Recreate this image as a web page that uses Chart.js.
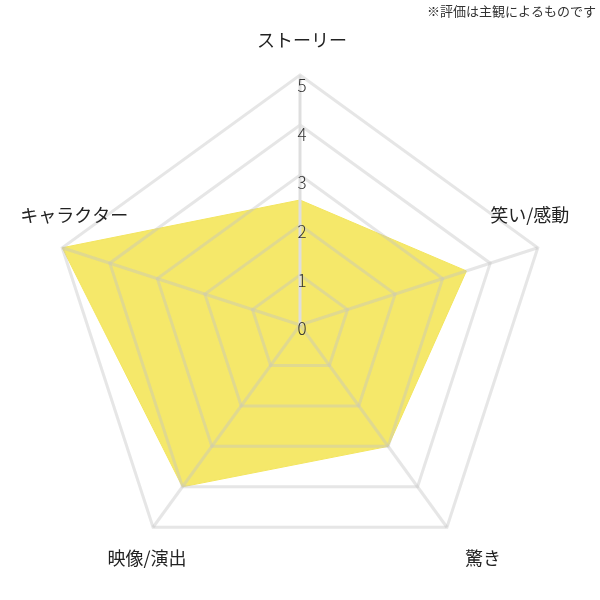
<!DOCTYPE html>
<html lang="ja">
<head>
<meta charset="utf-8">
<script src="https://cdn.jsdelivr.net/npm/chart.js@4.4.1/dist/chart.umd.min.js"></script>
<style>
  html, body { margin: 0; padding: 0; background: #fff; }
  #wrap { width: 600px; height: 600px; }
</style>
</head>
<body>
<div id="wrap"><canvas id="radar"></canvas></div>
<script>
const CATEGORIES = ["ストーリー", "笑い/感動", "驚き", "映像/演出", "キャラクター"];
const SCORES     = [2.5, 3.5, 3, 4, 5];
const TICKS      = [0, 1, 2, 3, 4, 5];
const NOTE       = "※評価は主観によるものです";

const FONT = "'Noto Sans CJK JP', 'Noto Sans', sans-serif";
const GRID = "rgba(195,195,195,0.42)";

// label nudges relative to the outer vertex (dx, dy)
const LABEL_SHIFT = [[2, -35], [-8, -33], [36, 31], [-6, 31], [12, -33]];

// ── Custom text: tick numbers, axis labels, note ──
const textPlugin = {
  id: "radarText",
  afterDraw(chart) {
    const { ctx } = chart;
    const r = chart.scales.r;
    ctx.save();

    // tick numbers (including 0) just under each ring
    ctx.font = `300 17px ${FONT}`;
    ctx.fillStyle = "#333";
    ctx.textAlign = "center";
    ctx.textBaseline = "middle";
    TICKS.forEach(t => {
      const d = r.getDistanceFromCenterForValue(t);
      ctx.fillText(String(t), r.xCenter + 2, r.yCenter - d + 4 + 1.3 * t);
    });

    // axis labels
    ctx.font = `18px ${FONT}`;
    ctx.fillStyle = "#222";
    CATEGORIES.forEach((c, i) => {
      const p = r.getPointPosition(i, r.drawingArea);
      const [dx, dy] = LABEL_SHIFT[i];
      ctx.fillText(c, p.x + dx, p.y + dy);
    });

    // note
    ctx.font = `13px ${FONT}`;
    ctx.fillStyle = "#333";
    ctx.textAlign = "right";
    ctx.fillText(NOTE, chart.width - 4, 11);
    ctx.restore();
  }
};

new Chart(document.getElementById("radar"), {
  type: "radar",
  data: {
    labels: CATEGORIES,
    datasets: [{
      data: SCORES,
      backgroundColor: "#f5e86a",
      borderColor: "#f3e55f",
      borderWidth: 1,
      pointRadius: 0,
      pointHoverRadius: 0
    }]
  },
  options: {
    responsive: true,
    maintainAspectRatio: false,
    animation: false,
    layout: { padding: { top: 75, bottom: 25, left: 50, right: 50 } },
    plugins: {
      legend: { display: false },
      tooltip: { enabled: false }
    },
    scales: {
      r: {
        min: 0,
        max: 5,
        ticks: { stepSize: 1, display: false },
        // z > 0 puts the grid over the filled area
        grid: { color: GRID, lineWidth: 3, z: 1 },
        angleLines: {
          color: ctx => ctx.index === 0 ? "#dedede" : GRID,
          lineWidth: 3
        },
        pointLabels: { display: false }
      }
    }
  },
  plugins: [textPlugin]
});
</script>
</body>
</html>
